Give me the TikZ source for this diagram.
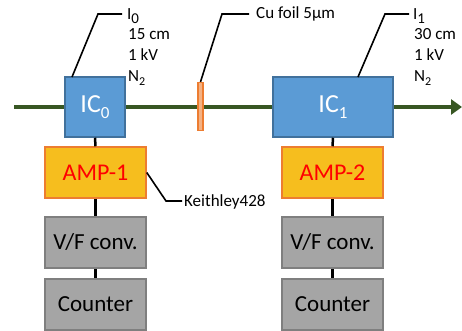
\documentclass[tikz,border=0pt]{standalone}
\usepackage{fontspec}
\setmainfont{Carlito}
\usetikzlibrary{arrows.meta}
\definecolor{beam}{HTML}{385723}
\definecolor{icfill}{HTML}{5B9BD5}
\definecolor{icdraw}{HTML}{41719C}
\definecolor{ampfill}{HTML}{F6BE1E}
\definecolor{ampdraw}{HTML}{ED7D31}
\definecolor{grayfill}{HTML}{A5A5A5}
\definecolor{graydraw}{HTML}{7F7F7F}
\definecolor{foilfill}{HTML}{F4B183}
\newcommand{\lbl}{\fontsize{17}{20}\selectfont}
\newcommand{\sbx}[1]{\raisebox{-4pt}{\fontsize{12}{13}\selectfont #1}}
\newcommand{\bsbx}[1]{\raisebox{-4pt}{\fontsize{15}{17}\selectfont #1}}
\newcommand{\icsub}[1]{\raisebox{-6pt}{\fontsize{17}{19}\selectfont #1}}
\begin{document}
\begin{tikzpicture}[x=1pt,y=-1pt,
  icbox/.style={draw=icdraw,fill=icfill,line width=1.5pt,minimum height=60pt,inner sep=0pt,
    text=white,font=\fontsize{26}{28}\selectfont},
  ampbox/.style={draw=ampdraw,fill=ampfill,line width=1.5pt,minimum width=101pt,minimum height=51pt,inner sep=0pt,
    text=red,font=\fontsize{24}{26}\selectfont},
  graybox/.style={draw=graydraw,fill=grayfill,line width=1.5pt,minimum width=101pt,minimum height=51pt,inner sep=0pt,
    text=black,font=\fontsize{23}{25}\selectfont},
  link/.style={line width=2.5pt,black},
  leader/.style={line width=1.6pt,black},
  lab/.style={anchor=base west,inner sep=0pt,font=\lbl}
]
\useasboundingbox (0,0) rectangle (462,331);
% beam
\coordinate (bs) at (14,107);
\coordinate (be) at (462,107);
\draw[beam,line width=3.5pt,-{Triangle[length=11pt,width=15pt]}] (bs) -- (be);
% ion chambers
\node[icbox,minimum width=60pt] (ic0) at (95,107) {IC\icsub{0}};
\node[icbox,minimum width=120pt] (ic1) at (333,107) {IC\icsub{1}};
% Cu foil
\node[draw=ampdraw,fill=foilfill,line width=1.3pt,minimum width=5pt,minimum height=48pt,inner sep=0pt] (foil) at (200.5,106.5) {};
% amplifiers
\node[ampbox] (amp1) at (95.5,172.5) {AMP-1};
\node[ampbox] (amp2) at (332.5,172.5) {AMP-2};
% V/F converters
\node[graybox] (vf1) at (95.5,242.5) {V/F conv.};
\node[graybox] (vf2) at (332.5,242.5) {V/F conv.};
% counters
\node[graybox] (cnt1) at (95.5,304.5) {Counter};
\node[graybox] (cnt2) at (332.5,304.5) {Counter};
% vertical links
\draw[link] (ic0.south) -- (amp1.north);
\draw[link] (amp1.south) -- (vf1.north);
\draw[link] (vf1.south) -- (cnt1.north);
\draw[link] (ic1.south) -- (amp2.north);
\draw[link] (amp2.south) -- (vf2.north);
\draw[link] (vf2.south) -- (cnt2.north);
% leader for IC0
\coordinate (a0) at (72,77);
\coordinate (l0) at (122,14);
\draw[leader] (a0) -- (98,14) -- (l0);
\node[lab] (t0a) at (127,20) {I\bsbx{0}};
\node[lab] (t0b) at (128,40) {15 cm};
\node[lab] (t0c) at (128,61) {1 kV};
\node[lab] (t0d) at (128,82) {N\sbx{2}};
% leader for foil
\coordinate (lf) at (249,14);
\draw[leader] (foil.north) -- (222,14) -- (lf);
\node[lab] (tf) at (256,19) {Cu foil 5µm};
% leader for IC1
\coordinate (a1) at (358,77);
\coordinate (l1) at (409,14);
\draw[leader] (a1) -- (385,14) -- (l1);
\node[lab] (t1a) at (413,20) {I\bsbx{1}};
\node[lab] (t1b) at (414,40) {30 cm};
\node[lab] (t1c) at (414,61) {1 kV};
\node[lab] (t1d) at (414,82) {N\sbx{2}};
% Keithley leader
\coordinate (lk) at (182,201);
\draw[leader] (amp1.east) -- (166,201) -- (lk);
\node[lab] (tk) at (184,206) {Keithley428};
\end{tikzpicture}
\end{document}
